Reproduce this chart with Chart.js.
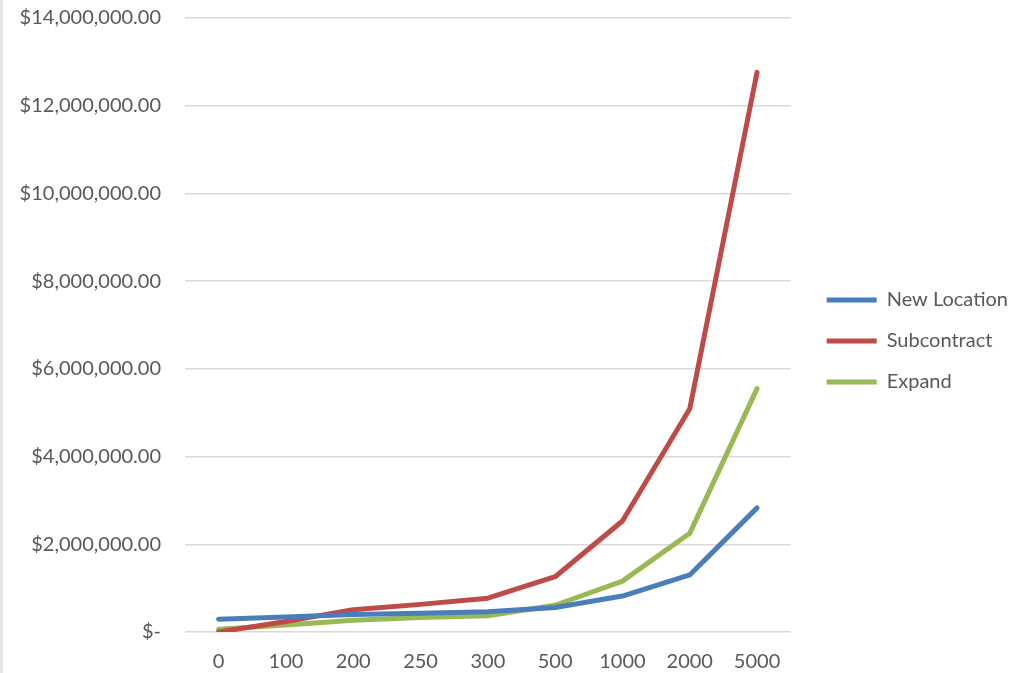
<!DOCTYPE html>
<html>
<head>
<meta charset="utf-8">
<script src="https://cdn.jsdelivr.net/npm/chart.js@4"></script>
<style>
  html, body { margin: 0; padding: 0; background: #fff; }
  #wrap { width: 1024px; height: 673px; position: relative; }
  #edge { position: absolute; left: 0; top: 0; width: 3px; height: 673px; background: #e6e6e6; }
</style>
</head>
<body>
<div id="wrap">
  <div id="edge"></div>
  <canvas id="costChart" width="1024" height="673"></canvas>
</div>
<script>
// categories on the x axis (units)
var units = ['0', '100', '200', '250', '300', '500', '1000', '2000', '5000'];

// series values (dollars)
var newLocation = [290000, 340000, 400000, 430000, 460000, 560000, 820000, 1300000, 2830000];
var subcontract = [0, 240000, 510000, 630000, 770000, 1260000, 2530000, 5090000, 12760000];
var expand = [60000, 160000, 270000, 330000, 370000, 610000, 1160000, 2250000, 5550000];

// y axis ticks
var yMax = 14000000;
var yStep = 2000000;

function money(v) {
    if (v === 0) return '$-';
    return '$' + v.toLocaleString('en-US', { minimumFractionDigits: 2, maximumFractionDigits: 2 });
}

var ctx = document.getElementById('costChart').getContext('2d');
var chart = new Chart(ctx, {
    type: 'line',
    data: {
        labels: units,
        datasets: [
            { label: 'New Location', data: newLocation, borderColor: '#4a7ebb', backgroundColor: '#4a7ebb', borderWidth: 5, yAxisID: 'y' },
            { label: 'Subcontract', data: subcontract, borderColor: '#be4b48', backgroundColor: '#be4b48', borderWidth: 5, yAxisID: 'y' },
            { label: 'Expand', data: expand, borderColor: '#98b954', backgroundColor: '#98b954', borderWidth: 5, yAxisID: 'y' }
        ]
    },
    options: {
        responsive: false,
        animation: false,
        elements: {
            line: { tension: 0, borderCapStyle: 'round', borderJoinStyle: 'round' },
            point: { radius: 0, hoverRadius: 0 }
        },
        // top only moves the legend up, the plot top comes from the y axis padding
        layout: { padding: { top: -10, right: 6, bottom: -19, left: 0 } },
        scales: {
            x: {
                offset: true,
                grid: { display: false, drawTicks: false },
                border: { display: false },
                ticks: { color: '#595959', font: { family: 'Lato', size: 20 }, padding: 18 }
            },
            y: {
                min: 0,
                max: yMax,
                grid: { color: '#d9d9d9', lineWidth: 1.5, drawTicks: false },
                border: { display: false },
                ticks: {
                    stepSize: yStep,
                    color: '#595959',
                    font: { family: 'Lato', size: 20 },
                    padding: 24,
                    callback: function (v) { return money(v); }
                },
                afterFit: function (scale) {
                    scale.width = 185;
                    scale.paddingTop = 18;
                    scale.paddingBottom = 12;
                }
            },
            // empty spacer between the plot and the legend
            gap: {
                position: 'right',
                display: false,
                afterFit: function (scale) { scale.width = 15; }
            }
        },
        plugins: {
            legend: {
                position: 'right',
                labels: {
                    usePointStyle: true,
                    pointStyle: 'line',
                    pointStyleWidth: 50,
                    color: '#595959',
                    font: { family: 'Lato', size: 20 },
                    padding: 21
                }
            },
            tooltip: { enabled: false }
        }
    }
});
</script>
</body>
</html>
